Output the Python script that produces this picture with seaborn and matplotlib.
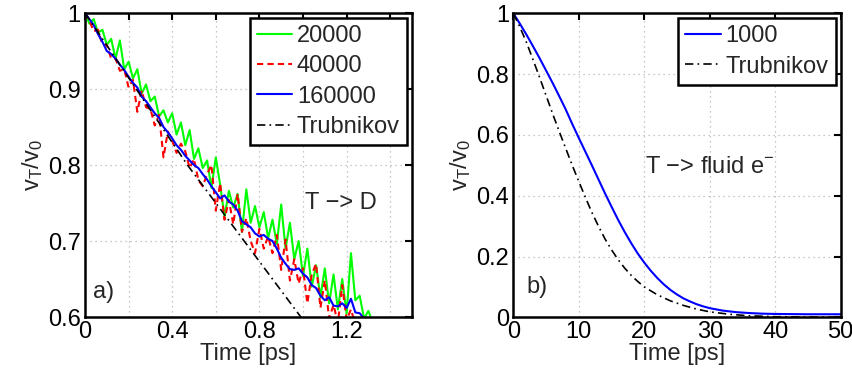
import numpy as np
import pandas as pd
import matplotlib
matplotlib.use("Agg")
import matplotlib.pyplot as plt
import seaborn as sns

# ---------------- data ----------------
t_mc = [0.00, 0.02, 0.04, 0.06, 0.08, 0.10, 0.12, 0.14, 0.16, 0.18,
        0.20, 0.22, 0.24, 0.26, 0.28, 0.30, 0.32, 0.34, 0.36, 0.38,
        0.40, 0.42, 0.44, 0.46, 0.48, 0.50, 0.52, 0.54, 0.56, 0.58,
        0.60, 0.62, 0.64, 0.66, 0.68, 0.70, 0.72, 0.74, 0.76, 0.78,
        0.80, 0.82, 0.84, 0.86, 0.88, 0.90, 0.92, 0.94, 0.96, 0.98,
        1.00, 1.02, 1.04, 1.06, 1.08, 1.10, 1.12, 1.14, 1.16, 1.18,
        1.20, 1.22, 1.24, 1.26, 1.28, 1.30, 1.32]

v_20000 = [1.000, 0.986, 0.992, 0.974, 0.978, 0.958, 0.966, 0.940, 0.964, 0.926,
           0.936, 0.914, 0.926, 0.894, 0.906, 0.884, 0.890, 0.864, 0.872, 0.856,
           0.868, 0.840, 0.856, 0.826, 0.846, 0.808, 0.822, 0.796, 0.806, 0.770,
           0.810, 0.774, 0.732, 0.766, 0.744, 0.762, 0.712, 0.768, 0.724, 0.746,
           0.718, 0.738, 0.704, 0.728, 0.696, 0.748, 0.690, 0.724, 0.676, 0.700,
           0.654, 0.690, 0.640, 0.668, 0.626, 0.664, 0.618, 0.656, 0.610, 0.650,
           0.604, 0.684, 0.622, 0.628, 0.598, 0.608, 0.592]

v_40000 = [1.000, 0.990, 0.976, 0.978, 0.958, 0.958, 0.940, 0.940, 0.924, 0.926,
           0.902, 0.912, 0.870, 0.898, 0.876, 0.874, 0.852, 0.866, 0.810, 0.844,
           0.832, 0.816, 0.828, 0.818, 0.796, 0.808, 0.780, 0.772, 0.788, 0.800,
           0.740, 0.776, 0.728, 0.754, 0.722, 0.762, 0.712, 0.730, 0.700, 0.684,
           0.716, 0.690, 0.706, 0.684, 0.708, 0.662, 0.702, 0.648, 0.676, 0.644,
           0.664, 0.618, 0.656, 0.670, 0.612, 0.648, 0.598, 0.616, 0.592, 0.642,
           0.596, 0.610, 0.590, 0.586, 0.582, 0.578, 0.574]

v_160000 = [1.000, 0.992, 0.984, 0.972, 0.962, 0.950, 0.946, 0.940, 0.932, 0.925,
            0.916, 0.908, 0.902, 0.890, 0.884, 0.876, 0.868, 0.862, 0.850, 0.843,
            0.835, 0.826, 0.820, 0.812, 0.806, 0.800, 0.796, 0.788, 0.781, 0.772,
            0.764, 0.756, 0.760, 0.752, 0.748, 0.740, 0.726, 0.722, 0.718, 0.710,
            0.706, 0.708, 0.703, 0.700, 0.690, 0.678, 0.670, 0.663, 0.662, 0.664,
            0.657, 0.652, 0.642, 0.638, 0.628, 0.622, 0.626, 0.615, 0.614, 0.618,
            0.612, 0.624, 0.606, 0.605, 0.598, 0.590, 0.585]

t_trub_a = [0.00, 0.47, 0.99, 1.10]
v_trub_a = [1.00, 0.80, 0.60, 0.56]

t_b = [0, 1, 2, 3, 4, 5, 6, 7, 8, 9, 10, 11, 12, 13, 14, 15, 16, 17, 18, 19,
       20, 21, 22, 23, 24, 25, 26, 27, 28, 29, 30, 32, 34, 36, 38, 40, 45, 50]
v_1000 = [1.000, 0.966, 0.930, 0.892, 0.853, 0.812, 0.771, 0.728, 0.684, 0.636,
          0.590, 0.545, 0.500, 0.454, 0.408, 0.364, 0.321, 0.281, 0.244, 0.210,
          0.180, 0.153, 0.129, 0.108, 0.090, 0.075, 0.062, 0.052, 0.043, 0.036,
          0.030, 0.022, 0.017, 0.014, 0.012, 0.011, 0.010, 0.010]

t_trub_b = [0, 1, 2, 3, 4, 5, 6, 7, 8, 9, 10, 11, 12, 13, 14, 15, 16, 17, 18, 19,
            20, 22, 24, 26, 28, 30, 33, 36, 40, 45, 50]
v_trub_b = [1.000, 0.955, 0.905, 0.848, 0.790, 0.730, 0.670, 0.612, 0.556, 0.500,
            0.447, 0.395, 0.345, 0.300, 0.258, 0.222, 0.190, 0.162, 0.138, 0.118,
            0.100, 0.074, 0.054, 0.039, 0.027, 0.018, 0.010, 0.005, 0.002, 0.001, 0.000]

xticks_a = [0, 0.2, 0.4, 0.6, 0.8, 1.0, 1.2, 1.4]
xticklabels_a = ["0", "", "0.4", "", "0.8", "", "1.2", ""]
yticks_a = [0.6, 0.7, 0.8, 0.9, 1.0]
yticklabels_a = ["0.6", "0.7", "0.8", "0.9", "1"]
xticks_b = [0, 10, 20, 30, 40, 50]
xticklabels_b = ["0", "10", "20", "30", "40", "50"]
yticks_b = [0, 0.2, 0.4, 0.6, 0.8, 1.0]
yticklabels_b = ["0", "0.2", "0.4", "0.6", "0.8", "1"]

# ---------------- style ----------------
sns.set_style("white")
plt.rcParams['font.family'] = ['Liberation Sans', 'DejaVu Sans']
plt.rcParams['mathtext.fontset'] = 'custom'
plt.rcParams['mathtext.rm'] = 'Liberation Sans'
plt.rcParams['mathtext.it'] = 'Liberation Sans'
FS = 17

fig = plt.figure(figsize=(8.53, 3.80), dpi=100)
axA = fig.add_axes([85 / 853, 1 - 317 / 380, 327 / 853, 304 / 380])
axB = fig.add_axes([513.3 / 853, 1 - 317.3 / 380, 327.4 / 853, 304 / 380])

TRUB_LS = (0, (5, 2.5, 1, 2.5))

sns.lineplot(x=t_mc, y=v_20000, ax=axA, color=(0, 1, 0), linewidth=1.5,
             label="20000", sort=False, estimator=None)
sns.lineplot(x=t_mc, y=v_40000, ax=axA, color=(1, 0, 0), linewidth=1.5,
             linestyle=(0, (3, 2)), label="40000", sort=False, estimator=None)
sns.lineplot(x=t_mc, y=v_160000, ax=axA, color=(0, 0, 1), linewidth=1.5,
             label="160000", sort=False, estimator=None)
sns.lineplot(x=t_trub_a, y=v_trub_a, ax=axA, color="black", linewidth=1.2,
             linestyle=TRUB_LS, label="Trubnikov", sort=False, estimator=None)

sns.lineplot(x=t_b, y=v_1000, ax=axB, color=(0, 0, 1), linewidth=1.5,
             label="1000", sort=False, estimator=None)
sns.lineplot(x=t_trub_b, y=v_trub_b, ax=axB, color="black", linewidth=1.2,
             linestyle=TRUB_LS, label="Trubnikov", sort=False, estimator=None)

for ax, xl, yl, xt, xtl, yt, ytl in [
        (axA, (0, 1.5), (0.6, 1.0), xticks_a, xticklabels_a, yticks_a, yticklabels_a),
        (axB, (0, 50), (0, 1.0), xticks_b, xticklabels_b, yticks_b, yticklabels_b)]:
    ax.set_xlim(*xl)
    ax.set_ylim(*yl)
    ax.set_xticks(xt)
    ax.set_xticklabels(xtl, fontsize=FS)
    ax.set_yticks(yt)
    ax.set_yticklabels(ytl, fontsize=FS)
    ax.grid(True, linestyle=(0, (1, 3)), color="#b5b5b5", linewidth=0.9)
    ax.set_axisbelow(True)
    for s in ax.spines.values():
        s.set_visible(True)
        s.set_color("black")
        s.set_linewidth(1.8)
    ax.tick_params(direction="in", length=5, width=1.5, top=True, right=True,
                   pad=3, colors="black")
    ax.set_xlabel("Time [ps]", fontsize=FS, labelpad=0)
    ax.set_ylabel(r"$\mathregular{v_T/v_0}$", fontsize=FS, labelpad=2)
    leg = ax.legend(loc="upper right",
                    bbox_to_anchor=(1 - 5 / 327, 1 - 5 / 304),
                    borderaxespad=0, fontsize=FS, frameon=True, fancybox=False,
                    handlelength=1.5, handletextpad=0.2, labelspacing=0.35,
                    borderpad=0.3)
    fr = leg.get_frame()
    fr.set_edgecolor("black")
    fr.set_linewidth(1.8)
    fr.set_alpha(1)

axA.text(1.01, 0.75, "T \u2212> D", fontsize=FS, va="center", ha="left")
axA.text(0.035, 0.633, "a)", fontsize=FS, va="center", ha="left")
axB.text(20.1, 0.495, r"T $\mathregular{-}$> fluid e$^{\mathregular{-}}$", fontsize=FS,
         va="center", ha="left")
axB.text(2.0, 0.10, "b)", fontsize=FS, va="center", ha="left")

fig.savefig("out.png", dpi=100)
